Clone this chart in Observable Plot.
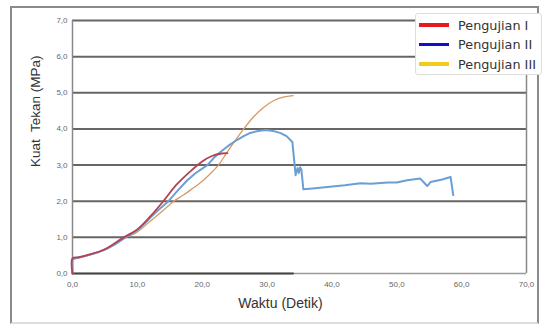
<!DOCTYPE html>
<html>
<head>
<meta charset="utf-8">
<script src="https://cdn.jsdelivr.net/npm/d3@7"></script>
<script src="https://cdn.jsdelivr.net/npm/@observablehq/plot@0.6"></script>
<style>
  html, body { margin: 0; padding: 0; background: #fff; }
  #wrap { position: relative; width: 544px; height: 327px; overflow: hidden; }
  #frame { position: absolute; left: 10px; top: 6px; width: 529px; height: 318px; border: 2px solid #8a8a8a; border-bottom-color: #ddd; box-sizing: border-box; }
  #chart { position: absolute; left: 0; top: 0; }
  #legend { position: absolute; left: 415px; top: 13px; width: 127px; height: 62px; background: #fff; border: 1px solid #ddd; border-radius: 3px; box-sizing: border-box; font-family: "DejaVu Sans", sans-serif; font-size: 12.8px; color: #333; }
  .row { position: absolute; left: 3px; height: 16px; display: flex; align-items: center; }
  .sw { width: 30px; height: 3.5px; margin-right: 9px; }
</style>
</head>
<body>
<div id="wrap">
  <div id="frame"></div>
  <div id="chart"></div>
  <div id="legend"></div>
</div>
<script>
// Pengujian I (red)
const xI = [0, 0, 1, 2.5, 5, 7.9, 10, 12, 14, 16, 18, 20, 21.5, 23, 23.9];
const yI = [0, 0.42, 0.45, 0.52, 0.67, 1.0, 1.22, 1.58, 2.0, 2.45, 2.8, 3.1, 3.25, 3.32, 3.33];
// Pengujian II (blue)
const xII = [0, 0, 1, 2.5, 4, 5.5, 6.5, 8, 9, 10, 11, 12, 13.5, 14.8, 16, 17.7, 19, 20.8, 21.8, 22.8, 24, 25.4, 26.4, 27.4, 28.6, 29.8, 31, 32, 33, 33.9, 34.4, 34.7, 34.9, 35.1, 35.3, 35.6, 37, 39.3, 42, 44.4, 46, 48.6, 50, 51.6, 53.6, 54.7, 55.2, 57, 58.3, 58.7];
const yII = [0, 0.4, 0.44, 0.51, 0.59, 0.7, 0.8, 0.98, 1.08, 1.2, 1.36, 1.55, 1.8, 2.0, 2.25, 2.58, 2.78, 3.0, 3.2, 3.36, 3.53, 3.7, 3.8, 3.89, 3.94, 3.97, 3.94, 3.89, 3.8, 3.64, 2.72, 2.92, 2.78, 2.94, 2.86, 2.33, 2.35, 2.39, 2.44, 2.5, 2.48, 2.52, 2.52, 2.58, 2.63, 2.42, 2.53, 2.6, 2.67, 2.17];
// Pengujian III (orange)
const xIII = [0, 0, 1, 2.5, 5, 8, 10, 12, 14, 15.6, 17.1, 18.5, 20, 21, 22.5, 24, 26.4, 28, 29.5, 31, 32.5, 34];
const yIII = [0, 0.38, 0.43, 0.51, 0.66, 0.98, 1.15, 1.45, 1.75, 2.0, 2.17, 2.35, 2.55, 2.72, 3.0, 3.4, 4.0, 4.35, 4.6, 4.78, 4.88, 4.92];
// dark segment on the base line
const xBase = [0, 34];
const yBase = [0, 0];

const xTicks = [0, 10, 20, 30, 40, 50, 60, 70];
const yTicks = [0, 1, 2, 3, 4, 5, 6, 7];
const seriesNames = ["Pengujian I", "Pengujian II", "Pengujian III"];
const legendColors = ["#e8191c", "#1010c8", "#f5cc1e"];

const fmt = v => v.toFixed(1).replace(".", ",");
const toRows = (xs, ys) => xs.map((x, i) => ({x, y: ys[i]}));

const plot = Plot.plot({
  width: 544,
  height: 327,
  marginLeft: 72,
  marginRight: 18,
  marginTop: 20,
  marginBottom: 54,
  style: {fontFamily: "'Liberation Sans', Arial, sans-serif", background: "transparent"},
  x: {domain: [0, 70]},
  y: {domain: [0, 7]},
  marks: [
    Plot.ruleY(yTicks.filter(d => d > 0), {stroke: "#666", strokeWidth: 2}),
    Plot.ruleX([0, 70], {stroke: "#888", strokeWidth: 1.5}),
    Plot.ruleY([0], {stroke: "#999", strokeWidth: 1.5}),
    Plot.line(toRows(xBase, yBase), {x: "x", y: "y", stroke: "#444", strokeWidth: 2}),
    Plot.line(toRows(xIII, yIII), {x: "x", y: "y", stroke: "#d49a66", strokeWidth: 1.3, curve: "catmull-rom"}),
    Plot.line(toRows(xII, yII), {x: "x", y: "y", stroke: "#6a9fd4", strokeWidth: 2, strokeLinejoin: "round"}),
    Plot.line(toRows(xI, yI), {x: "x", y: "y", stroke: "#b8404f", strokeWidth: 1.8, curve: "catmull-rom"}),
    Plot.axisX({ticks: xTicks, tickFormat: fmt, tickSize: 0, tickPadding: 8, fontSize: 8, color: "#666", label: null}),
    Plot.axisY({ticks: yTicks, tickFormat: fmt, tickSize: 0, tickPadding: 5, fontSize: 8, color: "#666", label: null}),
    Plot.text(["Kuat  Tekan (MPa)"], {frameAnchor: "left", dx: -37, dy: 20, rotate: -90, fontSize: 13.5, fill: "#333"}),
    Plot.text(["Waktu (Detik)"], {frameAnchor: "bottom", dy: 34, dx: -19, fontSize: 14, fill: "#333"})
  ]
});
document.getElementById("chart").appendChild(plot);

const legend = document.getElementById("legend");
seriesNames.forEach((name, i) => {
  const row = document.createElement("div");
  row.className = "row";
  row.style.top = (3 + i * 19.5) + "px";
  const sw = document.createElement("div");
  sw.className = "sw";
  sw.style.background = legendColors[i];
  const t = document.createElement("span");
  t.textContent = name;
  row.appendChild(sw);
  row.appendChild(t);
  legend.appendChild(row);
});
</script>
</body>
</html>
